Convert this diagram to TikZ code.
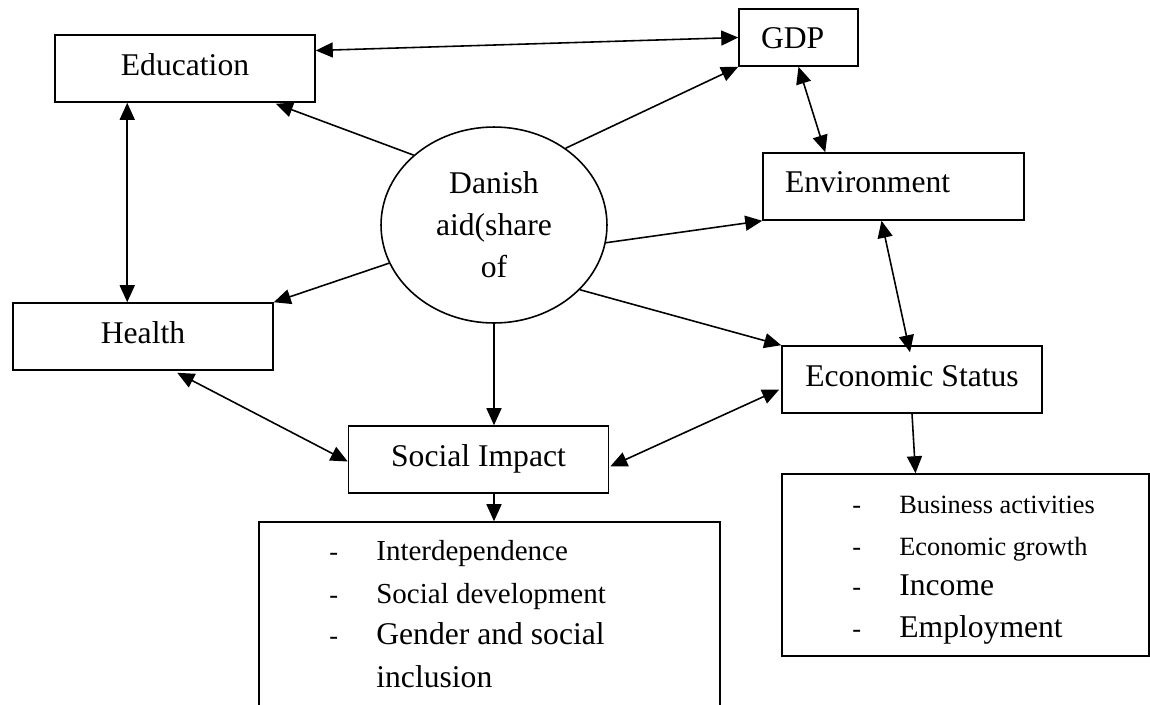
\documentclass[tikz,border=0pt]{standalone}
\usepackage{fontspec}
\setmainfont{Liberation Serif}
\usetikzlibrary{shapes.geometric, arrows.meta, calc}
\tikzset{
  factor/.style={rectangle, draw=black, line width=0.9pt, minimum width=5.2cm,
                 minimum height=1.34cm, font=\fontsize{18}{22}\selectfont,
                 text height=12.3pt, text depth=4.5pt, inner sep=0pt},
  factorl/.style={factor, align=left, inner xsep=0.44cm},
  aidnode/.style={ellipse, draw=black, line width=0.9pt, minimum width=4.52cm,
                  minimum height=3.92cm, align=center, font=\fontsize{18}{24}\selectfont, inner sep=0pt},
  listbox/.style={rectangle, draw=black, line width=0.9pt, inner sep=0pt},
  itemdash/.style={anchor=base west, inner sep=0pt, font=\fontsize{15}{18}\selectfont},
  itemtxt/.style={anchor=base west, inner sep=0pt},
  effarr/.style={draw=black, line width=0.9pt, -{Triangle[length=0.34cm, width=0.3cm]}},
  linkarr/.style={draw=black, line width=0.9pt,
                  {Triangle[length=0.34cm, width=0.3cm]}-{Triangle[length=0.34cm, width=0.3cm]}},
}

\begin{document}
\begin{tikzpicture}[x=0.02cm, y=-0.02cm]

\useasboundingbox (0,0) rectangle (1150,704);
\clip (0,0) rectangle (1150,704);
\fill[white] (0,0) rectangle (1150,704);

\node[aidnode] (dan) at (494,225) {Danish\\aid(share\\of};

\node[factor] (edu) at (185,68.5) {Education};
\node[factorl, text width=1.5cm, minimum width=2.38cm, minimum height=1.14cm, text depth=0.3pt] (gdp) at (798.5,37.5) {GDP};
\node[factorl, text width=4.34cm, minimum width=5.22cm, text depth=5.5pt] (env) at (893.5,186.5) {Environment};
\node[factor] (health) at (143,336.5) {Health};
\node[factor] (social) at (478.5,459.5) {Social Impact};
\node[factor] (econ) at (912,379.5) {Economic Status};

\node[listbox, minimum width=9.22cm, minimum height=4.36cm] (soclist) at (489.5,631) {};
\node[listbox, minimum width=7.34cm, minimum height=3.64cm] (ecolist) at (965.5,565) {};

% outcomes of social impact
\foreach \yb/\fs/\txt [count=\i] in {560/16.5/Interdependence, 603/16.5/Social development, 644/18/Gender and social}{
  \node[itemdash] (socdash\i) at (329,\yb) {-};
  \node[itemtxt, font=\fontsize{\fs}{\fs}\selectfont] (socitem\i) at (376,\yb) {\txt};
}
\node[itemtxt, font=\fontsize{18}{18}\selectfont] (socitem4) at (376,687) {inclusion};

% outcomes of economic status
\foreach \yb/\fs/\txt [count=\i] in {513/15/Business activities, 555/15/Economic growth, 595/18/Income, 637/18/Employment}{
  \node[itemdash] (ecodash\i) at (852,\yb) {-};
  \node[itemtxt, font=\fontsize{\fs}{\fs}\selectfont] (ecoitem\i) at (899,\yb) {\txt};
}

\draw[effarr] (dan.139) -- ($(edu.south east)+(-40,1)$);
\draw[effarr] (dan.47) -- (gdp.south west);
\draw[effarr] (dan.351) -- (env.south west);
\draw[effarr] (dan.200) -- (health.north east);
\draw[effarr] (dan.south) -- (dan.south |- social.north);
\draw[effarr] (dan.323) -- (econ.north west);

\draw[linkarr] ($(edu.east)+(0,-18)$) -- (gdp.west);
\draw[linkarr] (gdp.south) -- ($(env.north west)+(63,0)$);
\draw[linkarr] ($(env.south)+(-12,0)$) -- ($(econ.north)+(-2,7)$);
\draw[linkarr] ($(edu.south west)+(73,0)$) -- ($(health.north west)+(115,0)$);
\draw[linkarr] ($(health.south west)+(165,2)$) -- ($(social.west)+(0,2)$);
\draw[linkarr] ($(social.east)+(1,7)$) -- ($(econ.west)+(-2,10)$);

\draw[effarr] (dan.south |- social.south) -- (dan.south |- soclist.north);
\draw[effarr] (econ.south) -- ($(ecolist.north)+(-50,0)$);

\end{tikzpicture}
\end{document}
